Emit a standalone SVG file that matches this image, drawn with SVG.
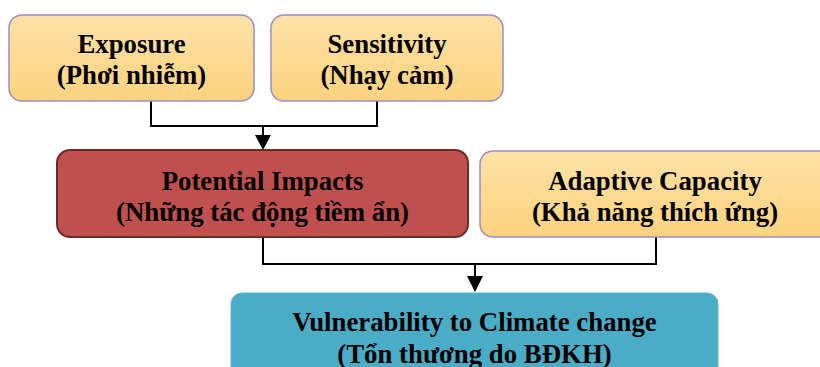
<svg xmlns="http://www.w3.org/2000/svg" width="820" height="367" viewBox="0 0 820 367">
<style>
.t{font-family:'Liberation Serif','Times New Roman','DejaVu Serif',serif;font-weight:700;font-size:26.8px;fill:#000;text-anchor:middle}
.y{fill:url(#gy);stroke:#9F8DC2;stroke-width:1.5}
.r{fill:#C0504D;stroke:#6F2A28;stroke-width:2}
.b{fill:#4BACC6;stroke:#5BB8D0;stroke-width:1}
.c{fill:none;stroke:#000;stroke-width:2}
.h{fill:#000}
</style>
<defs>
<linearGradient id="gy" x1="0" y1="0" x2="0" y2="1">
<stop offset="0" stop-color="#FEE2A8"/>
<stop offset="1" stop-color="#FCD27E"/>
</linearGradient>
</defs>
<g id="connectors">
<path class="c" d="M151,101 V126 H377 V101"/>
<path class="c" d="M263,126 V135"/>
<path class="h" d="M255,135 L271,135 L263,150 Z"/>
<path class="c" d="M263,237 V264 H656 V237"/>
<path class="c" d="M475,264 V276"/>
<path class="h" d="M467,276 L483,276 L475,292 Z"/>
</g>
<g id="exposure">
<rect class="y" x="9" y="15" width="245" height="86" rx="13"/>
<text class="t" x="131.5" y="53">Exposure</text>
<text class="t" x="131.5" y="84">(Phơi nhiễm)</text>
</g>
<g id="sensitivity">
<rect class="y" x="271" y="15" width="232" height="86" rx="13"/>
<text class="t" x="387" y="53">Sensitivity</text>
<text class="t" x="387" y="84">(Nhạy cảm)</text>
</g>
<g id="potential-impacts">
<rect class="r" x="57" y="150" width="411" height="87" rx="13"/>
<text class="t" x="262.5" y="190">Potential Impacts</text>
<text class="t" x="262.5" y="221">(Những tác động tiềm ẩn)</text>
</g>
<g id="adaptive-capacity">
<rect class="y" x="480" y="151" width="352" height="86" rx="13"/>
<text class="t" x="655" y="190">Adaptive Capacity</text>
<text class="t" x="655" y="221">(Khả năng thích ứng)</text>
</g>
<g id="vulnerability">
<rect class="b" x="231" y="293" width="487" height="90" rx="11"/>
<text class="t" x="474.5" y="331">Vulnerability to Climate change</text>
<text class="t" x="474.5" y="363">(Tổn thương do BĐKH)</text>
</g>
</svg>
